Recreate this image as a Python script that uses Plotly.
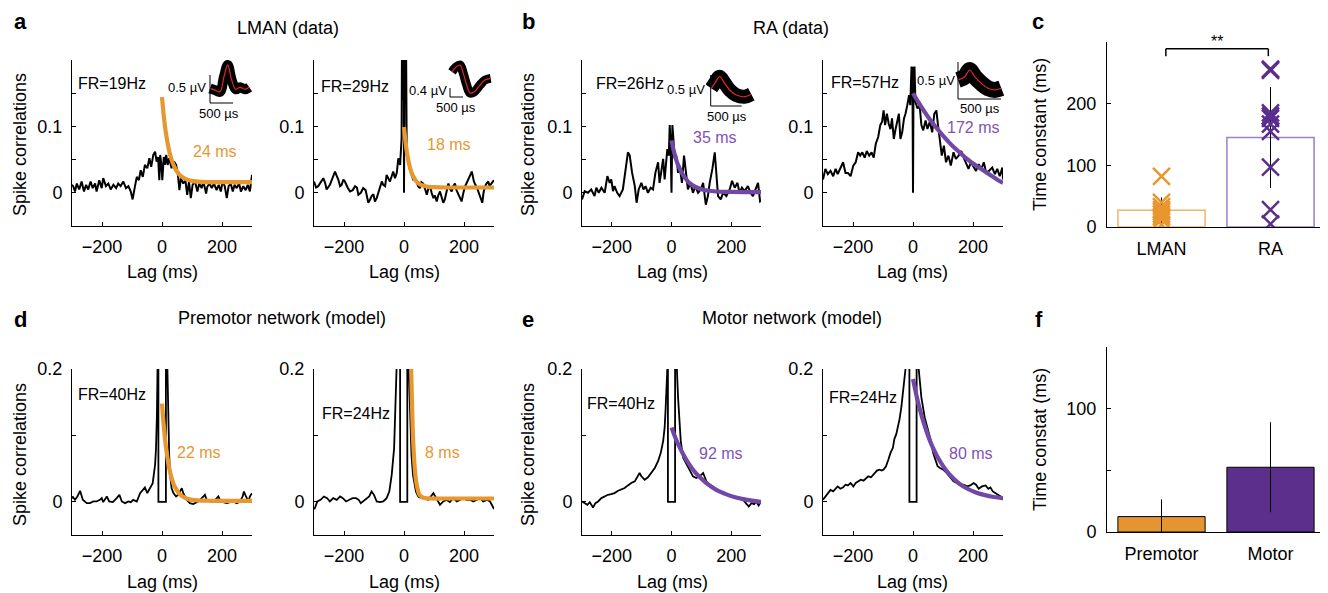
import plotly.graph_objects as go

# ---------------- data ----------------
A1_LAG = [-300, -296, -290, -284, -276, -268, -260, -253, -246, -238,
          -231, -223, -218, -209, -201, -196, -187, -179, -171, -162,
          -153, -146, -138, -129, -120, -112, -104, -98, -90, -84,
          -77, -71, -64, -57, -49, -42, -36, -29, -23, -18,
          -13, -9, -6, -2, 1, 6, 10, 14, 19, 24,
          32, 40, 47, 53, 58, 63, 71, 78, 84, 90,
          96, 102, 110, 118, 124, 132, 138, 147, 151, 158,
          166, 173, 182, 189, 196, 202, 209, 216, 222, 229,
          236, 242, 249, 257, 263, 271, 279, 286, 293, 300]
A1_VAL = [0.012, 0.010, 0.002, 0.014, 0.005, 0.017, 0.002, 0.012, 0.005, 0.017,
          0.007, 0.014, 0.002, 0.019, 0.007, 0.022, 0.010, 0.014, 0.005, 0.012,
          0.007, 0.014, 0.010, 0.017, 0.007, 0.010, 0.002, -0.010, 0.010, 0.024,
          0.019, 0.034, 0.024, 0.042, 0.037, 0.052, 0.039, 0.057, 0.062, 0.047,
          0.054, 0.019, 0.057, 0.042, 0.019, 0.054, 0.042, 0.057, 0.042, 0.052,
          0.037, 0.047, 0.042, 0.027, 0.004, 0.022, 0.014, 0.019, -0.003, 0.017,
          -0.008, 0.012, 0.017, 0.002, 0.014, 0.007, 0.017, -0.001, 0.009, 0.014,
          0.007, 0.014, 0.004, 0.012, 0.002, 0.017, 0.010, -0.008, 0.010, 0.014,
          0.002, 0.012, 0.007, 0.014, 0.002, 0.010, 0.004, 0.012, 0.002, 0.027]

A2_LAG = [-300, -293, -286, -269, -263, -258, -247, -241, -230, -224,
          -219, -213, -208, -202, -197, -188, -180, -171, -163, -157,
          -152, -144, -136, -128, -119, -113, -108, -102, -97, -91,
          -86, -80, -74, -69, -63, -58, -52, -47, -41, -36,
          -30, -24, -19, -13, -8, -6, -4, -3, -1, 0,
          1, 3, 4, 6, 9, 14, 20, 25, 31, 36,
          42, 47, 53, 58, 64, 70, 76, 81, 87, 92,
          98, 103, 109, 114, 120, 125, 131, 136, 140, 144,
          148, 153, 159, 164, 170, 175, 181, 186, 192, 197,
          203, 208, 214, 220, 226, 233, 238, 244, 250, 256,
          261, 265, 270, 275, 281, 285, 289, 294, 300]
A2_VAL = [0.017, 0.008, 0.010, 0.022, 0.015, 0.005, 0.012, 0.020, 0.032, 0.025,
          0.020, 0.010, 0.012, 0.020, 0.017, 0.008, 0.002, 0.004, 0.010, 0.008,
          -0.003, 0.000, 0.007, 0.004, -0.015, -0.010, -0.005, -0.002, -0.013, -0.008,
          0.000, 0.008, 0.017, 0.012, 0.010, 0.027, 0.022, 0.017, 0.025, 0.032,
          0.022, 0.030, 0.052, 0.042, 0.082, 0.30, 0.14, 0.30, 0.30, 0.0,
          0.30, 0.30, 0.14, 0.30, 0.057, 0.045, 0.034, 0.028, 0.019, 0.022,
          0.017, 0.010, 0.007, 0.016, 0.014, 0.006, -0.003, 0.006, 0.0095, 0.000,
          -0.008, -0.004, -0.013, -0.004, 0.002, -0.006, -0.015, -0.010, -0.003, 0.008,
          0.014, 0.006, 0.002, 0.010, 0.014, 0.004, -0.003, -0.008, -0.013, -0.002,
          0.0095, 0.014, 0.019, 0.026, 0.032, 0.017, 0.012, 0.007, -0.001, -0.008,
          -0.015, 0.000, 0.0095, 0.014, 0.017, 0.010, 0.012, 0.016, 0.019]

B1_LAG = [-300, -291, -280, -269, -258, -252, -244, -235, -224, -215,
          -207, -202, -196, -191, -182, -174, -163, -154, -146, -140,
          -132, -123, -117, -110, -101, -94, -87, -79, -70, -62,
          -54, -45, -40, -34, -28, -23, -17, -14, -9, -6,
          -3, 0, 3, 6, 11, 16, 22, 27, 35, 42,
          50, 55, 63, 72, 80, 89, 98, 106, 115, 122,
          128, 137, 145, 150, 156, 165, 173, 184, 195, 203,
          212, 221, 228, 236, 245, 256, 265, 273, 284, 290,
          297, 300]
B1_VAL = [-0.010, 0.0025, 0.0, 0.005, -0.005, 0.0076, 0.0, 0.0076, 0.0, 0.025,
          0.015, 0.020, 0.0025, 0.010, 0.0, -0.005, 0.005, 0.033, 0.061, 0.056,
          0.030, 0.010, -0.015, 0.005, 0.015, 0.005, 0.010, 0.0, 0.0076, 0.005,
          0.030, 0.046, 0.015, 0.033, 0.051, 0.020, 0.046, 0.066, 0.056, 0.102,
          0.076, 0.0, 0.102, 0.076, 0.051, 0.056, 0.030, 0.041, 0.015, 0.056,
          0.020, 0.005, 0.015, 0.0, 0.010, 0.0, 0.005, 0.015, -0.018, -0.005,
          0.015, 0.036, 0.061, 0.036, -0.005, -0.010, 0.0, -0.005, 0.005, 0.018,
          0.0076, 0.015, 0.0, 0.0076, 0.0025, 0.010, 0.0, -0.005, 0.0076, 0.015,
          -0.013, -0.012]

B2_LAG = [-300, -292, -284, -275, -266, -258, -251, -242, -233, -225,
          -217, -208, -199, -191, -183, -176, -169, -161, -154, -146,
          -138, -131, -124, -116, -109, -103, -98, -93, -87, -81,
          -75, -70, -64, -58, -53, -47, -42, -36, -30, -25,
          -19, -13, -9, -5, -3, -2, 0, 2, 3, 5,
          8, 15, 22, 28, 34, 42, 48, 56, 64, 71,
          78, 82, 90, 96, 103, 110, 118, 126, 135, 143,
          152, 161, 169, 176, 185, 193, 202, 210, 219, 228,
          236, 244, 253, 264, 273, 281, 289, 298, 300]
B2_VAL = [0.020, 0.036, 0.028, 0.033, 0.025, 0.036, 0.028, 0.038, 0.046, 0.030,
          0.030, 0.025, 0.041, 0.046, 0.061, 0.056, 0.061, 0.053, 0.063, 0.056,
          0.061, 0.053, 0.074, 0.084, 0.102, 0.107, 0.124, 0.102, 0.119, 0.104,
          0.096, 0.112, 0.081, 0.096, 0.107, 0.119, 0.081, 0.091, 0.112, 0.119,
          0.132, 0.147, 0.132, 0.19, 0.15, 0.19, 0.0, 0.19, 0.15, 0.19,
          0.137, 0.127, 0.132, 0.102, 0.094, 0.109, 0.096, 0.107, 0.091, 0.119,
          0.124, 0.107, 0.081, 0.056, 0.071, 0.046, 0.056, 0.041, 0.061, 0.051,
          0.056, 0.063, 0.053, 0.046, 0.036, 0.046, 0.038, 0.033, 0.043, 0.036,
          0.046, 0.030, 0.033, 0.038, 0.028, 0.036, 0.025, 0.038, 0.020]

D1_LAG = [-300, -298, -290, -282, -273, -264, -251, -240, -229, -218,
          -207, -201, -196, -184, -176, -164, -151, -142, -134, -123,
          -112, -104, -96, -84, -73, -64, -57, -49, -40, -31,
          -23, -20, -17, -15, -13, -12, -12, 13, 13, 16,
          18, 21, 24, 27, 32, 38, 47, 54, 66, 71,
          82, 93, 104, 116, 127, 138, 143, 149, 160, 171,
          182, 188, 193, 204, 216, 227, 238, 249, 260, 269,
          273, 280, 288, 293, 300]
D1_VAL = [0.005, 0.008, 0.003, 0.008, 0.0165, 0.003, -0.002, -0.002, 0.0005, 0.0005,
          0.003, 0.0055, -0.0005, 0.008, 0.0005, -0.0005, 0.0055, 0.0105, 0.0005, -0.002,
          0.0005, -0.0005, 0.003, 0.0005, 0.013, 0.018, 0.0215, 0.013, 0.0205, 0.028,
          0.056, 0.08, 0.13, 0.2, 0.3, 0.3, 0.0, 0.0, 0.3, 0.3,
          0.2, 0.12, 0.07, 0.04, 0.0205, 0.013, 0.008, 0.0105, 0.0205, 0.013,
          0.003, -0.002, -0.0035, -0.0005, 0.003, 0.008, 0.0105, 0.003, 0.0005, -0.0005,
          0.0055, 0.008, 0.003, -0.0005, -0.002, -0.0005, 0.0005, -0.002, 0.0005, 0.008,
          0.0155, 0.008, 0.0005, 0.008, 0.013]

D2_LAG = [-300, -297, -289, -278, -267, -256, -247, -236, -224, -213,
          -204, -193, -182, -171, -160, -151, -144, -136, -124, -116,
          -108, -100, -91, -80, -69, -58, -49, -41, -33, -28,
          -24, -22, -18, -13, -13, 11, 11, 13, 16, 20,
          25, 30, 35, 40, 45, 50, 64, 81, 98, 109,
          120, 131, 142, 153, 164, 176, 187, 198, 209, 220,
          231, 242, 253, 264, 276, 287, 298, 300]
D2_VAL = [-0.011, -0.0095, 0.0005, 0.003, 0.008, 0.0055, 0.0005, 0.0055, 0.003, 0.008,
          0.0055, 0.0005, 0.003, 0.0055, 0.0055, 0.003, -0.002, 0.0005, 0.0055, 0.008,
          0.0155, 0.0105, 0.0005, -0.0005, 0.0005, 0.0055, 0.0155, 0.0405, 0.0805, 0.13,
          0.18, 0.2, 0.3, 0.3, 0.0, 0.0, 0.3, 0.3, 0.2, 0.12,
          0.07, 0.04, 0.025, 0.015, 0.01, 0.007, 0.0055, 0.003, 0.013, 0.003,
          -0.0045, 0.0005, 0.003, -0.0005, 0.0055, 0.0005, 0.003, 0.0055, 0.003, 0.003,
          0.0005, 0.003, 0.0055, 0.0005, 0.003, 0.0005, -0.0095, -0.011]

E1_LAG = [-300, -291, -282, -274, -263, -255, -246, -235, -224, -213,
          -202, -191, -179, -168, -157, -146, -135, -123, -112, -107,
          -101, -90, -79, -68, -56, -45, -36, -28, -23, -20,
          -16, -14, -12, -12, 12, 12, 15, 18, 22, 25,
          31, 39, 50, 61, 72, 83, 94, 106, 117, 128,
          139, 150, 161, 173, 184, 195, 206, 217, 228, 240,
          251, 259, 268, 277, 284, 292, 300]
E1_VAL = [0.0005, -0.002, -0.0045, -0.0005, -0.0086, -0.002, 0.0005, 0.0056, 0.008, 0.0106,
          0.0116, 0.0131, 0.0167, 0.0182, 0.0207, 0.0247, 0.0283, 0.0308, 0.0399, 0.0434,
          0.0384, 0.0333, 0.0369, 0.0434, 0.0510, 0.0611, 0.0737, 0.0914, 0.1116, 0.1369,
          0.1672, 0.20, 0.30, 0.0, 0.0, 0.30, 0.30, 0.20, 0.157, 0.127,
          0.0914, 0.0662, 0.0561, 0.0460, 0.0384, 0.0359, 0.0384, 0.0434, 0.0308, 0.0258,
          0.0232, 0.0182, 0.0146, 0.0131, 0.0116, 0.0106, 0.0081, 0.0066, 0.0056, 0.0030,
          -0.002, -0.0071, -0.002, -0.0035, 0.0005, -0.0056, 0.0005]

E2_LAG = [-300, -292, -284, -275, -266, -258, -251, -242, -233, -225,
          -217, -208, -199, -191, -183, -174, -165, -157, -149, -140,
          -129, -120, -112, -104, -98, -90, -82, -75, -67, -62,
          -56, -51, -45, -39, -34, -28, -25, -18, -12, -12,
          12, 12, 16, 19, 28, 39, 51, 60, 67, 75,
          82, 90, 101, 112, 124, 135, 146, 157, 169, 180,
          191, 202, 210, 219, 230, 242, 251, 258, 266, 275,
          284, 292, 300]
E2_VAL = [0.003, 0.008, 0.013, 0.018, 0.0157, 0.0207, 0.0232, 0.0197, 0.0217, 0.0258,
          0.0247, 0.0283, 0.0232, 0.0283, 0.0308, 0.0333, 0.0318, 0.0359, 0.0384, 0.0369,
          0.0434, 0.0470, 0.0485, 0.0470, 0.0485, 0.0535, 0.0636, 0.0737, 0.0813, 0.0949,
          0.1015, 0.1116, 0.1242, 0.1419, 0.1621, 0.1874, 0.2, 0.3, 0.3, 0.0,
          0.0, 0.3, 0.3, 0.2, 0.157, 0.127, 0.1065, 0.0914, 0.0737, 0.0611,
          0.0535, 0.0510, 0.0485, 0.0434, 0.0359, 0.0308, 0.0283, 0.0247, 0.0258, 0.0232,
          0.0247, 0.0283, 0.0258, 0.0197, 0.0232, 0.0247, 0.0197, 0.0217, 0.0157, 0.0131,
          0.0106, 0.008, 0.003]

# exponential fits
A1_FIT_LAG = [0, 5, 10, 15, 20, 25, 30, 40, 50, 60, 70, 80, 100, 120, 150, 200, 250, 300]
A1_FIT = [0.144, 0.120, 0.100, 0.0845, 0.0717, 0.061, 0.0527, 0.0402, 0.032, 0.0265,
          0.023, 0.0206, 0.018, 0.0169, 0.0162, 0.016, 0.016, 0.016]
A2_FIT_LAG = [0, 5, 10, 15, 20, 25, 30, 40, 50, 60, 80, 100, 150, 200, 250, 300]
A2_FIT = [0.099, 0.0769, 0.0602, 0.0476, 0.038, 0.0307, 0.0252, 0.0178, 0.0136, 0.0113,
          0.0091, 0.0084, 0.008, 0.008, 0.008, 0.008]
B1_FIT_LAG = [0, 5, 10, 15, 20, 30, 40, 50, 60, 80, 100, 120, 150, 200, 250, 300]
B1_FIT = [0.079, 0.068, 0.059, 0.051, 0.044, 0.034, 0.026, 0.020, 0.015, 0.009,
          0.0055, 0.0035, 0.002, 0.0013, 0.001, 0.001]
B2_FIT_LAG = [0, 20, 40, 60, 80, 100, 120, 140, 160, 180, 200, 220, 240, 260, 280, 300]
B2_FIT = [0.150, 0.135, 0.121, 0.108, 0.097, 0.086, 0.076, 0.067, 0.059, 0.051,
          0.044, 0.038, 0.032, 0.026, 0.020, 0.015]
D1_FIT_LAG = [0, 5, 10, 15, 20, 25, 30, 40, 50, 60, 80, 100, 150, 200, 250, 300]
D1_FIT = [0.148, 0.119, 0.095, 0.076, 0.061, 0.049, 0.039, 0.025, 0.017, 0.011,
          0.0053, 0.003, 0.0016, 0.0015, 0.0015, 0.0015]
D2_FIT_LAG = [18, 20, 22, 24, 26, 28, 30, 33, 36, 40, 45, 50, 55, 60, 70, 90, 150, 300]
D2_FIT = [0.4, 0.33, 0.26, 0.2, 0.16, 0.125, 0.098, 0.07, 0.05, 0.032,
          0.02, 0.012, 0.009, 0.007, 0.0055, 0.005, 0.005, 0.005]
E1_FIT_LAG = [0, 20, 40, 60, 80, 100, 120, 150, 180, 210, 240, 270, 300]
E1_FIT = [0.112, 0.089, 0.071, 0.056, 0.044, 0.035, 0.027, 0.018, 0.012, 0.0073, 0.004, 0.0017, 0.0]
E2_FIT_LAG = [0, 20, 40, 60, 80, 100, 120, 150, 180, 210, 240, 270, 300]
E2_FIT = [0.185, 0.144, 0.113, 0.088, 0.069, 0.054, 0.042, 0.029, 0.020, 0.014, 0.010, 0.0073, 0.0055]

FIT_LABELS = ['24 ms', '18 ms', '35 ms', '172 ms', '22 ms', '8 ms', '92 ms', '80 ms']
FR_LABELS = ['FR=19Hz', 'FR=29Hz', 'FR=26Hz', 'FR=57Hz', 'FR=40Hz', 'FR=24Hz', 'FR=40Hz', 'FR=24Hz']

# panel c
C_CATS = ['LMAN', 'RA']
C_MEAN = [27, 145]
C_ERR = [21, 82]
LMAN_TAU = [82, 40, 33, 28, 25, 21, 17, 12, 4]
RA_TAU = [256, 254, 185, 180, 176, 167, 155, 97, 28, 5]
# panel f
F_CATS = ['Premotor', 'Motor']
F_MEAN = [12.5, 52.5]
F_ERR = [14, 36.5]

# spike waveform insets (time in microseconds, voltage in microvolts)
INS_A1_T = [0, 109, 217, 304, 385, 472, 559, 652, 761, 854]
INS_A1_V = [0.26, 0.23, 0.20, 0.47, 0.68, 0.41, 0.245, 0.28, 0.245, 0.28]
INS_A2_T = [77, 231, 385, 512, 642, 769, 923, 1154, 1346, 1565]
INS_A2_V = [1.12, 1.33, 1.42, 1.05, 0.53, 0.18, 0.22, 0.53, 0.755, 0.83]
INS_B1_T = [10, 65, 145, 226, 306, 413, 548, 655]
INS_B1_V = [0.285, 0.366, 0.473, 0.366, 0.258, 0.177, 0.150, 0.189]
INS_B2_T = [0, 78, 136, 194, 271, 349, 427, 504]
INS_B2_V = [0.257, 0.301, 0.392, 0.301, 0.212, 0.145, 0.122, 0.145]
SCALE_US = 500
SCALE_UV = [0.5, 0.4, 0.5, 0.5]

# ---------------- styling / layout ----------------
# the page body keeps its default 8px margin, so the figure is sized to fit
# the window exactly and positions below are given in window pixels
OFF = 8
W, H = 1328 - OFF, 593 - OFF
ORANGE = '#E8972F'
PURPLE = '#7248A6'
PURPLE_DARK = '#5B2D8E'
FONT = 'Liberation Sans, Arial, Helvetica, sans-serif'


def X(p):
    return (p - OFF) / W


def Y(p):
    return 1 - (p - OFF) / H


def ax_name(n, letter):
    return f'{letter}axis' if n == 1 else f'{letter}axis{n}'


def ref(n, letter):
    return letter if n == 1 else f'{letter}{n}'


layout = dict(width=W, height=H, margin=dict(l=0, r=0, t=0, b=0, pad=0, autoexpand=False),
              paper_bgcolor='white', plot_bgcolor='rgba(0,0,0,0)', showlegend=False,
              font=dict(family=FONT, size=18, color='black'))
fig = go.Figure()

corr = [
    # n, x0, x1, y0, y1, lag, val, fitlag, fit, color, kind
    (1, 72, 252, 60, 226, A1_LAG, A1_VAL, A1_FIT_LAG, A1_FIT, ORANGE, 'data'),
    (2, 314, 494, 60, 226, A2_LAG, A2_VAL, A2_FIT_LAG, A2_FIT, ORANGE, 'data'),
    (3, 582, 761, 60, 226, B1_LAG, B1_VAL, B1_FIT_LAG, B1_FIT, PURPLE, 'data'),
    (4, 823, 1003, 60, 226, B2_LAG, B2_VAL, B2_FIT_LAG, B2_FIT, PURPLE, 'data'),
    (5, 72, 252, 369, 535, D1_LAG, D1_VAL, D1_FIT_LAG, D1_FIT, ORANGE, 'model'),
    (6, 314, 494, 369, 535, D2_LAG, D2_VAL, D2_FIT_LAG, D2_FIT, ORANGE, 'model'),
    (7, 582, 761, 369, 535, E1_LAG, E1_VAL, E1_FIT_LAG, E1_FIT, PURPLE, 'model'),
    (8, 823, 1003, 369, 535, E2_LAG, E2_VAL, E2_FIT_LAG, E2_FIT, PURPLE, 'model'),
]

for (n, x0, x1, y0, y1, lag, val, flag, fval, col, kind) in corr:
    if kind == 'data':
        ytv, ytt = [0, 0.05, 0.1, 0.15], ['0', '', '0.1', '']
    else:
        ytv, ytt = [0, 0.1, 0.2], ['0', '', '0.2']
    layout[ax_name(n, 'x')] = dict(
        domain=[X(x0), X(x1)], range=[-300, 300], tickvals=[-200, 0, 200],
        ticks='inside', ticklen=4, tickcolor='black', showline=True, linecolor='black',
        linewidth=1, showgrid=False, zeroline=False, anchor=ref(n, 'y'), automargin=False,
        tickfont=dict(size=18, color='black'), ticklabelstandoff=4, fixedrange=True)
    layout[ax_name(n, 'y')] = dict(
        domain=[Y(y1), Y(y0)], range=[-0.05, 0.2], tickvals=ytv, ticktext=ytt,
        ticks='inside', ticklen=4, tickcolor='black', showline=True, linecolor='black',
        linewidth=1, showgrid=False, zeroline=False, anchor=ref(n, 'x'), automargin=False,
        tickfont=dict(size=18, color='black'), ticklabelstandoff=5, fixedrange=True)
    fig.add_trace(go.Scatter(x=lag, y=val, mode='lines', xaxis=ref(n, 'x'), yaxis=ref(n, 'y'),
                             line=dict(color='black', width=2 if kind == 'data' else 1.8)))
    fig.add_trace(go.Scatter(x=flag, y=fval, mode='lines', xaxis=ref(n, 'x'), yaxis=ref(n, 'y'),
                             line=dict(color=col, width=4.2, shape='spline')))

# ---- panel c (n=9) ----
layout['xaxis9'] = dict(domain=[X(1107), X(1325)], range=[-0.5, 1.5], tickvals=[0, 1],
                        ticktext=C_CATS, ticks='', showline=True, linecolor='black', linewidth=1,
                        showgrid=False, zeroline=False, anchor='y9', ticklabelstandoff=5, automargin=False,
                        tickfont=dict(size=18, color='black'), fixedrange=True)
layout['yaxis9'] = dict(domain=[Y(227), Y(42)], range=[0, 300], tickvals=[0, 100, 200, 300],
                        ticktext=['0', '100', '200', ''], ticks='inside', ticklen=4,
                        tickcolor='black', showline=True, linecolor='black', linewidth=1,
                        showgrid=False, zeroline=False, anchor='x9', ticklabelstandoff=6, automargin=False,
                        tickfont=dict(size=18, color='black'), fixedrange=True)
fig.add_trace(go.Bar(x=[0, 1], y=C_MEAN, width=0.8, xaxis='x9', yaxis='y9',
                     marker=dict(color='white', line=dict(color=['#F3B468', '#9B80C6'], width=1.5)),
                     error_y=dict(type='data', array=C_ERR, color='black', thickness=1, width=0)))
fig.add_trace(go.Scatter(x=[0] * len(LMAN_TAU), y=LMAN_TAU, mode='markers', xaxis='x9', yaxis='y9',
                         marker=dict(symbol='x-thin', size=17, line=dict(color=ORANGE, width=2.5))))
fig.add_trace(go.Scatter(x=[1] * len(RA_TAU), y=RA_TAU, mode='markers', xaxis='x9', yaxis='y9',
                         marker=dict(symbol='x-thin', size=17, line=dict(color=PURPLE_DARK, width=2.5))))

# ---- panel f (n=10) ----
layout['xaxis10'] = dict(domain=[X(1107), X(1325)], range=[-0.5, 1.5], tickvals=[0, 1],
                         ticktext=F_CATS, ticks='', showline=True, linecolor='black', linewidth=1,
                         showgrid=False, zeroline=False, anchor='y10', ticklabelstandoff=5, automargin=False,
                         tickfont=dict(size=18, color='black'), fixedrange=True)
layout['yaxis10'] = dict(domain=[Y(532), Y(347)], range=[0, 150], tickvals=[0, 50, 100, 150],
                         ticktext=['0', '', '100', ''], ticks='inside', ticklen=4,
                         tickcolor='black', showline=True, linecolor='black', linewidth=1,
                         showgrid=False, zeroline=False, anchor='x10', ticklabelstandoff=6, automargin=False,
                         tickfont=dict(size=18, color='black'), fixedrange=True)
fig.add_trace(go.Bar(x=[0, 1], y=F_MEAN, width=0.8, xaxis='x10', yaxis='y10',
                     marker=dict(color=['#E5952F', '#5C2F8D'], line=dict(color='black', width=1)),
                     error_y=dict(type='data', array=F_ERR, color='black', thickness=1, width=0)))

# ---- spike-waveform insets (n=11..14) ----
insets = [
    # n, domain px box, px of t=0, px of v=0, us/px, uV/px, t, v, band width, scale uV
    (11, (205, 252, 50, 106), 210, 103, 500 / 23, 0.5 / 28, INS_A1_T, INS_A1_V, 10, SCALE_UV[0]),
    (12, (446, 494, 55, 100), 450, 97, 500 / 13, 0.4 / 9, INS_A2_T, INS_A2_V, 9, SCALE_UV[1]),
    (13, (706, 756, 60, 110), 710.7, 106, 500 / 31, 0.5 / 31, INS_B1_T, INS_B1_V, 14, SCALE_UV[2]),
    (14, (954, 1004, 55, 102), 958, 99, 500 / 43, 0.5 / 37, INS_B2_T, INS_B2_V, 16, SCALE_UV[3]),
]
shapes = []
for (n, (bx0, bx1, by0, by1), tx0, vy0, uspp, uvpp, tt, vv, bw, suv) in insets:
    layout[ax_name(n, 'x')] = dict(domain=[X(bx0), X(bx1)], range=[(bx0 - tx0) * uspp, (bx1 - tx0) * uspp],
                                   visible=False, anchor=ref(n, 'y'), fixedrange=True)
    layout[ax_name(n, 'y')] = dict(domain=[Y(by1), Y(by0)], range=[(vy0 - by1) * uvpp, (vy0 - by0) * uvpp],
                                   visible=False, anchor=ref(n, 'x'), fixedrange=True)
    fig.add_trace(go.Scatter(x=tt, y=vv, mode='lines', xaxis=ref(n, 'x'), yaxis=ref(n, 'y'),
                             line=dict(color='black', width=bw, shape='spline')))
    fig.add_trace(go.Scatter(x=tt, y=vv, mode='lines', xaxis=ref(n, 'x'), yaxis=ref(n, 'y'),
                             line=dict(color='#E0262A', width=1.2, shape='spline')))
    shapes.append(dict(type='line', xref=ref(n, 'x'), yref=ref(n, 'y'), x0=0, x1=0, y0=0, y1=suv,
                       line=dict(color='black', width=1)))
    shapes.append(dict(type='line', xref=ref(n, 'x'), yref=ref(n, 'y'), x0=0, x1=SCALE_US, y0=0, y1=0,
                       line=dict(color='black', width=1)))

# significance bracket in panel c
shapes += [
    dict(type='line', xref='x9', yref='y9', x0=0.04, x1=0.98, y0=289, y1=289, line=dict(color='black', width=1.5)),
    dict(type='line', xref='x9', yref='y9', x0=0.04, x1=0.04, y0=289, y1=277, line=dict(color='black', width=1.5)),
    dict(type='line', xref='x9', yref='y9', x0=0.98, x1=0.98, y0=289, y1=277, line=dict(color='black', width=1.5)),
]
layout['shapes'] = shapes

# ---------------- text ----------------
ann = []


def txt(s, x, y, size=18, color='black', xa='center', ya='middle', bold=False, angle=0):
    ann.append(dict(text=f'<b>{s}</b>' if bold else s, x=X(x), y=Y(y), xref='paper', yref='paper',
                    xanchor=xa, yanchor=ya, showarrow=False, textangle=angle, borderpad=0,
                    font=dict(size=size, color=color, family=FONT)))


for s, x, y in [('a', 20, 21), ('b', 528, 21), ('c', 1038, 21), ('d', 20, 319), ('e', 528, 319), ('f', 1039, 319)]:
    txt(s, x, y, size=22, bold=True)
for s, x, y in [('LMAN (data)', 288, 28), ('RA (data)', 791, 28),
                ('Premotor network (model)', 282, 318), ('Motor network (model)', 792, 318)]:
    txt(s, x, y, size=18)
for s, x, y in [('Spike correlations', 20, 145), ('Spike correlations', 528, 145),
                ('Spike correlations', 20, 455), ('Spike correlations', 528, 455),
                ('Time constant (ms)', 1040, 135), ('Time constat (ms)', 1040, 440)]:
    txt(s, x, y, size=18, angle=-90)
for x, y in [(162, 272), (404, 272), (672, 272), (913, 272), (162, 582), (404, 582), (672, 582), (913, 582)]:
    txt('Lag (ms)', x, y, size=18)

fr_pos = [(77, 83), (320, 87), (595, 83), (830, 82), (77, 394), (321, 413), (586, 403), (828, 397)]
for s, (x, y) in zip(FR_LABELS, fr_pos):
    txt(s, x, y, size=16, xa='left')
fit_pos = [(192, 151), (426, 144), (692, 137), (946, 128), (176, 452), (424, 452), (698, 453), (948, 453)]
fit_cols = [ORANGE, ORANGE, '#8152B5', '#8152B5', ORANGE, ORANGE, '#8152B5', '#8152B5']
for s, (x, y), c in zip(FIT_LABELS, fit_pos, fit_cols):
    txt(s, x, y, size=16, color=c, xa='left')

for uv, (x, y) in zip(SCALE_UV, [(207, 88), (448, 91), (706, 90), (956, 80)]):
    txt(f'{uv} µV', x, y, size=13, xa='right')
for x, y in [(219, 113), (456, 107), (727, 116), (980, 108)]:
    txt(f'{SCALE_US} µs', x, y, size=13)
txt('**', 1217, 41, size=16)

layout['annotations'] = ann
fig.update_layout(**layout)
fig.write_html('out.html')
